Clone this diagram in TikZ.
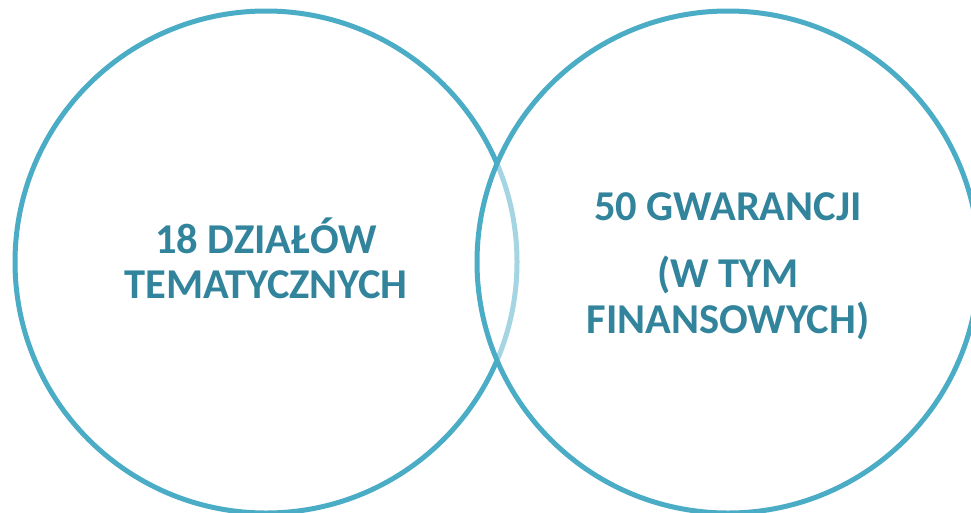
\documentclass[tikz,border=0pt]{standalone}
\usepackage{fontspec}
\setmainfont{Carlito}
\definecolor{ringc}{HTML}{4BACC6}
\definecolor{textc}{HTML}{31849B}
\tikzset{
  ring/.style={draw=ringc, line width=5pt},
  label/.style={text=textc, font=\fontsize{42.5}{42.5}\selectfont\bfseries, anchor=base, inner sep=0pt}
}
\begin{document}
\begin{tikzpicture}[x=1pt,y=-1pt]
\useasboundingbox (0,0) rectangle (971,512);
\begin{scope}
\clip (0,0) rectangle (971,512);
\node[circle, ring, minimum size=502pt, inner sep=0pt] (left) at (266,262) {};
\node[circle, fill=white, fill opacity=0.5, minimum size=502pt, inner sep=0pt] (rfill) at (728,262) {};
\node[circle, ring, minimum size=502pt, inner sep=0pt] (right) at (728,262) {};
\end{scope}
\node[label] (l1) at (266,253) {18 DZIAŁÓW};
\node[label] (l2) at (266,298) {TEMATYCZNYCH};
\node[label] (r1) at (728,220) {50 GWARANCJI};
\node[label] (r2) at (728,287) {(W TYM};
\node[label] (r3) at (728,333) {FINANSOWYCH)};
\end{tikzpicture}
\end{document}
